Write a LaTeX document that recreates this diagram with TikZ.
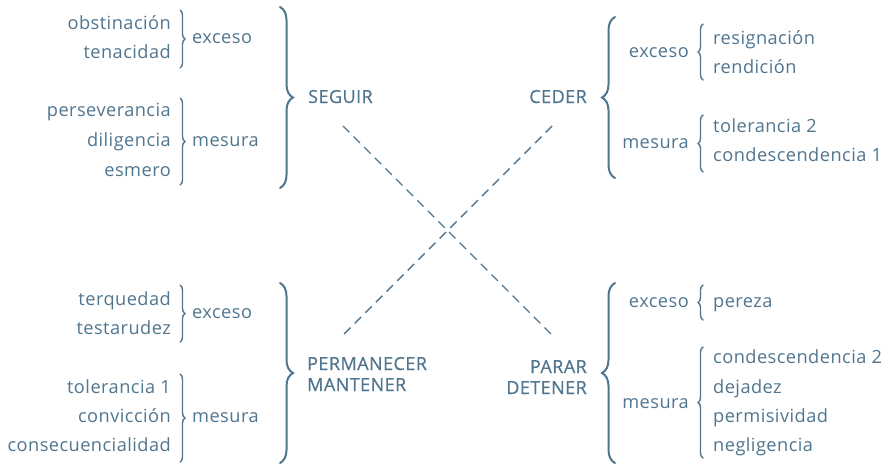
\documentclass[tikz,border=0pt]{standalone}
\usepackage{fontspec}
\usetikzlibrary{decorations.pathreplacing}

\newfontfamily\letra[LetterSpace=2.5]{Open Sans}
\newfontfamily\letrab[LetterSpace=2.5,FakeBold=0.6]{Open Sans}
\newcommand\palabra{\letra\fontsize{18.2}{20}\selectfont}
\newcommand\titulo{\letrab\fontsize{18}{20}\selectfont}
\definecolor{tinta}{RGB}{80,117,143}

\begin{document}
\begin{tikzpicture}[x=1pt,y=-1pt,
    every node/.style={inner sep=0pt,text=tinta,font=\palabra},
    izq/.style={anchor=mid east,yshift=-3pt},
    der/.style={anchor=mid west,yshift=-3pt},
    verbo/.style={font=\titulo},
    llave/.style={draw=tinta,line width=2pt,line cap=round,decorate,decoration={brace,amplitude=13pt}},
    llavita/.style={draw=tinta,line width=1.4pt,line cap=round,decorate,decoration={brace,amplitude=5pt}},
    guion/.style={draw=tinta,line width=1.4pt,dash pattern=on 9pt off 6pt}]
  \useasboundingbox (0,0) rectangle (893,464);

  % seguir
  \foreach \nombre/\texto/\y in {obst/obstinación/24,tena/tenacidad/53,pers/perseverancia/111,dili/diligencia/141,esme/esmero/171}
    \node[izq] (\nombre) at (171,\y) {\texto};
  \draw[llavita] (180,10) -- (180,68);
  \draw[llavita] (180,98) -- (180,185);
  \node[der] (exc1) at (192,38) {exceso};
  \node[der] (mes1) at (192,141) {mesura};
  \draw[llave] (280,7) -- (280,188);
  \node[verbo,anchor=base west] (seguir) at (308,103) {SEGUIR};

  % ceder
  \node[verbo,anchor=base east] (ceder) at (587,103) {CEDER};
  \draw[llave] (615,178) -- (615,17);
  \node[izq] (exc2) at (689,52) {exceso};
  \node[izq] (mes2) at (689,143) {mesura};
  \draw[llavita] (703,80) -- (703,24);
  \draw[llavita] (703,172) -- (703,115);
  \foreach \nombre/\texto/\y in {resi/resignación/39,rend/rendición/68,tol2/tolerancia 2/127,con1/condescendencia 1/156}
    \node[der] (\nombre) at (713,\y) {\texto};

  % permanecer
  \foreach \nombre/\texto/\y in {terq/terquedad/300,test/testarudez/329,tol1/tolerancia 1/388,conv/convicción/417,cons/consecuencialidad/446}
    \node[izq] (\nombre) at (171,\y) {\texto};
  \draw[llavita] (180,285) -- (180,342);
  \draw[llavita] (180,374) -- (180,462);
  \node[der] (exc3) at (192,313) {exceso};
  \node[der] (mes3) at (192,417) {mesura};
  \draw[llave] (280,283) -- (280,463);
  \node[verbo,anchor=base west] (perm) at (307,370) {PERMANECER};
  \node[verbo,anchor=base west] (mant) at (307,391) {MANTENER};

  % parar
  \node[verbo,anchor=base east] (parar) at (587,373) {PARAR};
  \node[verbo,anchor=base east] (dete) at (587,394) {DETENER};
  \draw[llave] (615,463) -- (615,283);
  \node[izq] (exc4) at (689,302) {exceso};
  \node[izq] (mes4) at (689,403) {mesura};
  \draw[llavita] (703,320) -- (703,285);
  \draw[llavita] (703,458) -- (703,347);
  \foreach \nombre/\texto/\y in {pere/pereza/302,con2/condescendencia 2/358,deja/dejadez/388,perm2/permisividad/417,negl/negligencia/446}
    \node[der] (\nombre) at (713,\y) {\texto};

  % cruce
  \coordinate (s1) at (343,126);
  \coordinate (p1) at (552,335);
  \coordinate (c1) at (552,126);
  \coordinate (m1) at (343,335);
  \draw[guion] (s1) -- (p1);
  \draw[guion] (c1) -- (m1);
\end{tikzpicture}
\end{document}
